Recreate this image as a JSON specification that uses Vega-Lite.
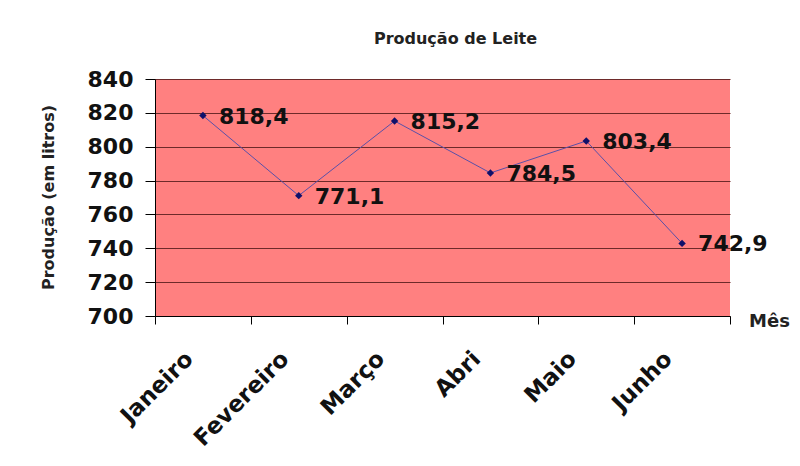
{
  "$schema": "https://vega.github.io/schema/vega-lite/v6.json",
  "autosize": "none",
  "width": 575,
  "height": 237,
  "padding": {"left": 155, "top": 79, "right": 70, "bottom": 150},
  "background": "white",
  "config": {
    "font": "DejaVu Sans",
    "view": {"fill": "#FF8080", "stroke": null}
  },
  "title": {
    "text": "Produção de Leite",
    "fontSize": 16,
    "fontWeight": "bold",
    "font": "DejaVu Sans",
    "anchor": "middle",
    "dx": 13,
    "offset": 21,
    "color": "#222222"
  },
  "data": {
    "values": [
      {"mes": "Janeiro", "valor": 818.4, "rotulo": "818,4"},
      {"mes": "Fevereiro", "valor": 771.1, "rotulo": "771,1"},
      {"mes": "Março", "valor": 815.2, "rotulo": "815,2"},
      {"mes": "Abri", "valor": 784.5, "rotulo": "784,5"},
      {"mes": "Maio", "valor": 803.4, "rotulo": "803,4"},
      {"mes": "Junho", "valor": 742.9, "rotulo": "742,9"}
    ]
  },
  "encoding": {
    "x": {
      "field": "mes",
      "type": "nominal",
      "sort": null,
      "scale": {"type": "band", "paddingInner": 0, "paddingOuter": 0},
      "axis": {
        "title": "Mês",
        "titleX": 614,
        "titleY": 5,
        "titleAlign": "center",
        "titleBaseline": "middle",
        "titleFontSize": 18,
        "titleFontWeight": "bold",
        "titleColor": "#222222",
        "tickBand": "extent",
        "tickSize": 8,
        "tickColor": "#000000",
        "domainColor": "#000000",
        "labelAngle": -45,
        "labelAlign": "right",
        "labelBaseline": "middle",
        "labelPadding": 31,
        "labelOffset": -14,
        "labelFontSize": 23,
        "labelFontWeight": "bold",
        "labelColor": "#111111",
        "grid": false
      }
    },
    "y": {
      "field": "valor",
      "type": "quantitative",
      "scale": {"domain": [700, 840], "nice": false, "zero": false},
      "axis": {
        "title": "Produção (em litros)",
        "titleX": -107,
        "titleY": 118,
        "titleAngle": -90,
        "titleAlign": "center",
        "titleBaseline": "middle",
        "titleFontSize": 16,
        "titleFontWeight": "bold",
        "titleColor": "#222222",
        "values": [700, 720, 740, 760, 780, 800, 820, 840],
        "tickSize": 10,
        "tickColor": "#000000",
        "domainColor": "#000000",
        "labelPadding": 12,
        "labelFontSize": 22,
        "labelFontWeight": "bold",
        "labelColor": "#111111",
        "grid": true,
        "gridColor": "#6E2A2A",
        "gridOpacity": 1,
        "gridWidth": 1.2
      }
    }
  },
  "layer": [
    {"mark": {"type": "line", "color": "#5A50A8", "strokeWidth": 1}},
    {"mark": {"type": "point", "shape": "diamond", "filled": true, "color": "#10106A", "size": 55, "opacity": 1}},
    {
      "mark": {"type": "text", "align": "left", "baseline": "middle", "dx": 16, "dy": 1, "fontSize": 22, "fontWeight": "bold", "color": "#111111"},
      "encoding": {"text": {"field": "rotulo"}}
    }
  ]
}
